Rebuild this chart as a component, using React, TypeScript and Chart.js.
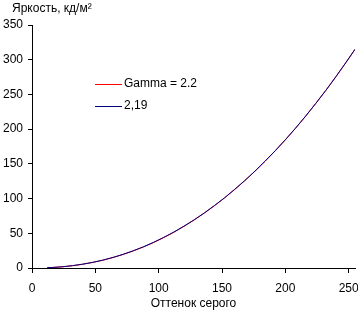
import React, { useEffect, useRef } from "react";
import { Chart, registerables } from "chart.js";

Chart.register(...registerables);

const titleText = "Яркость, кд/м²";
const xTitle = "Оттенок серого";
const seriesNames = ["Gamma = 2.2", "2,19"];
const seriesColors = ["#ff0000", "#000080"];

const xTicks = [0, 50, 100, 150, 200, 250];
const yTicks = [0, 50, 100, 150, 200, 250, 300, 350];

const grayLevels = [12, 16, 24, 32, 40, 48, 56, 64, 72, 80, 88, 96, 104, 112, 120, 128, 136, 144, 152, 160, 168, 176, 184, 192, 200, 208, 216, 224, 232, 240, 248, 255];
const gammaValues = [0.4, 0.7, 1.7, 3.3, 5.4, 8.0, 11.2, 15.1, 19.5, 24.6, 30.3, 36.7, 43.8, 51.5, 60.0, 69.1, 79.0, 89.6, 100.9, 113.0, 125.8, 139.3, 153.7, 168.7, 184.6, 201.2, 218.6, 236.9, 255.8, 275.7, 296.3, 315.0];
const measuredValues = [0.5, 0.8, 1.8, 3.4, 5.5, 8.2, 11.4, 15.3, 19.8, 24.9, 30.6, 37.0, 44.1, 51.8, 60.3, 69.4, 79.3, 89.9, 101.1, 113.3, 126.0, 139.5, 153.9, 168.9, 184.7, 201.3, 218.7, 237.0, 255.9, 275.8, 296.4, 315.0];

const FONT = "Arial, 'Liberation Sans', sans-serif";

const overlayPlugin = {
  id: "overlay",
  afterDraw(chart: any) {
    const ctx = chart.ctx;
    const area = chart.chartArea;
    ctx.save();
    ctx.fillStyle = "#000";
    ctx.font = `12px ${FONT}`;
    ctx.textBaseline = "middle";
    ctx.textAlign = "left";
    ctx.fillText(titleText, 12, 9);
    const lx = area.left + 63;
    const ly = [84, 106];
    seriesNames.forEach((name, i) => {
      ctx.strokeStyle = seriesColors[i];
      ctx.lineWidth = 1;
      ctx.beginPath();
      ctx.moveTo(lx, ly[i] + 0.5);
      ctx.lineTo(lx + 27, ly[i] + 0.5);
      ctx.stroke();
      ctx.fillStyle = "#000";
      ctx.fillText(name, lx + 29, ly[i]);
    });
    ctx.restore();
  },
};

export default function App() {
  const ref = useRef<HTMLCanvasElement>(null);
  useEffect(() => {
    if (!ref.current) return;
    const chart = new Chart(ref.current, {
      type: "line",
      data: {
        datasets: [
          {
            label: seriesNames[0],
            data: grayLevels.map((x, i) => ({ x, y: gammaValues[i] })),
            borderColor: seriesColors[0],
            borderWidth: 1,
            pointRadius: 0,
            tension: 0,
            order: 1,
          },
          {
            label: seriesNames[1],
            data: grayLevels.map((x, i) => ({ x, y: measuredValues[i] })),
            borderColor: seriesColors[1],
            borderWidth: 1,
            pointRadius: 0,
            tension: 0,
            order: 0,
          },
        ],
      },
      options: {
        animation: false,
        responsive: false,
        layout: { padding: { left: 0, top: 25, right: 3, bottom: 0 } },
        plugins: { legend: { display: false }, tooltip: { enabled: false }, title: { display: false } },
        scales: {
          x: {
            type: "linear",
            min: 0,
            max: 255,
            afterBuildTicks: (s: any) => {
              s.ticks = xTicks.map((v) => ({ value: v }));
            },
            afterFit: (s: any) => {
              s.height = 43;
              s.paddingRight = 0;
              s.paddingLeft = 0;
            },
            grid: { display: true, drawOnChartArea: false, drawTicks: true, tickLength: 5, color: "#000" },
            border: { display: true, color: "#000" },
            ticks: { color: "#000", font: { family: FONT, size: 12 }, padding: 8, maxRotation: 0, autoSkip: false },
            title: { display: true, text: xTitle, color: "#000", font: { family: FONT, size: 12 }, padding: { top: 0, bottom: 0 } },
          },
          y: {
            type: "linear",
            min: 0,
            max: 350,
            afterBuildTicks: (s: any) => {
              s.ticks = yTicks.map((v) => ({ value: v }));
            },
            afterFit: (s: any) => {
              s.width = 32;
            },
            grid: { display: true, drawOnChartArea: false, drawTicks: true, tickLength: 4, color: "#000" },
            border: { display: true, color: "#000" },
            ticks: { color: "#000", font: { family: FONT, size: 12 }, padding: 5, autoSkip: false },
          },
        },
      },
      plugins: [overlayPlugin],
    } as any);
    return () => chart.destroy();
  }, []);
  return (
    <div style={{ position: "fixed", left: 0, top: 0, width: 358, height: 311, background: "#fff" }}>
      <canvas ref={ref} width={358} height={311} style={{ width: 358, height: 311 }} />
    </div>
  );
}
